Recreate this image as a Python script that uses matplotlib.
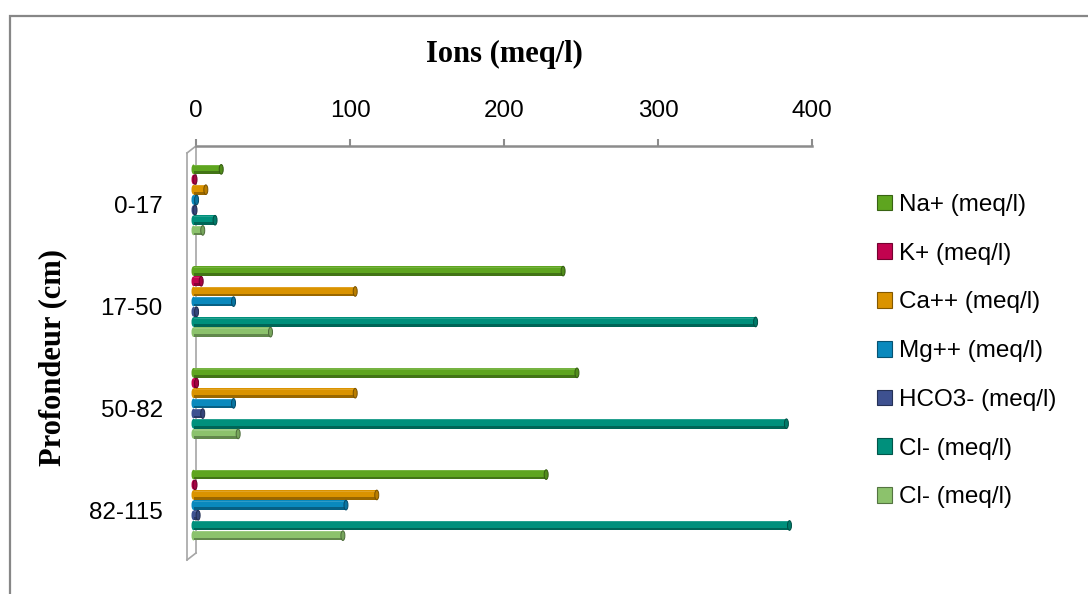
import numpy as np
import matplotlib.pyplot as plt
from matplotlib import transforms
from matplotlib.colors import to_rgb
from matplotlib.patches import Rectangle, Ellipse

# Data (meq/l) per depth layer
depths = ['0-17', '17-50', '50-82', '82-115']
names = ['Na+ (meq/l)', 'K+ (meq/l)', 'Ca++ (meq/l)', 'Mg++ (meq/l)',
         'HCO3- (meq/l)', 'Cl- (meq/l)', 'Cl- (meq/l)']
na = [18, 240, 249, 229]
k = [1, 5, 2, 1]
ca = [8, 105, 105, 119]
mg = [2, 26, 26, 99]
hco3 = [1, 2, 6, 3]
cl = [14, 365, 385, 387]
cl2 = [6, 50, 29, 97]
xticks = [0, 100, 200, 300, 400]

values = [na, k, ca, mg, hco3, cl, cl2]
colors = ['#5ea51f', '#c2034f', '#da9300', '#0a89bd', '#3e5190', '#00907c', '#8cc26c']


def shade(c, f):
    r = np.array(to_rgb(c))
    if f < 0:
        return tuple(r * (1 + f))
    return tuple(r + (1 - r) * f)


plt.rcParams['font.family'] = 'Liberation Sans'

W, H = 1088, 594
fig = plt.figure(figsize=(W / 100, H / 100), dpi=100)
ax = fig.add_axes([196 / W, 1 - 553 / H, 616 / W, 407 / H])

# bars sit on the front plane, a few pixels left/down of the back wall
front = transforms.offset_copy(ax.transData, fig=fig, x=-2.5, y=-3, units='dots')

pos = np.arange(len(depths))
pitch = 0.1
h = 0.095
capw = 4 / 1.54
for i, (vals, c) in enumerate(zip(values, colors)):
    y = pos - 0.3 + i * pitch
    layers = [
        (y, h, c),
        (y + h * 0.36, h * 0.28, shade(c, -0.3)),
        (y - h * 0.40, h * 0.12, shade(c, 0.15)),
    ]
    for yy, hh, cc in layers:
        bars = ax.barh(yy, vals, height=hh, color=cc, linewidth=0, zorder=3)
        for b in bars:
            b.set_transform(front)
            b.set_clip_on(False)
    for v, yc in zip(vals, y):
        start = Ellipse((0, yc), width=capw, height=h, facecolor=c,
                        edgecolor='none', zorder=2.9, transform=front, clip_on=False)
        cap = Ellipse((v, yc), width=capw, height=h, facecolor=shade(c, -0.15),
                      edgecolor=shade(c, -0.45), linewidth=0.7, zorder=5,
                      transform=front, clip_on=False)
        ax.add_patch(start)
        ax.add_patch(cap)

ax.set_xlim(0, 400)
ax.set_ylim(3.5, -0.5)

# axis at the top
ax.xaxis.tick_top()
ax.set_xticks(xticks)
ax.tick_params(axis='x', direction='out', length=5, width=1.5, color='#8c8c8c',
               labelsize=17.5, pad=12)
ax.set_yticks(pos)
ax.set_yticklabels(depths)
ax.tick_params(axis='y', length=0, labelsize=17.5, pad=24)
for lbl in ax.get_yticklabels():
    lbl.set_transform(lbl.get_transform() +
                      transforms.ScaledTranslation(0, -8 / 100, fig.dpi_scale_trans))

for s in ['right', 'bottom']:
    ax.spines[s].set_visible(False)
ax.spines['top'].set_color('#8c8c8c')
ax.spines['top'].set_linewidth(1.8)
ax.spines['left'].set_color('#a6a6a6')
ax.spines['left'].set_linewidth(1.2)
ax.patch.set_alpha(0)

# 3D wall front edge
dx, dy = -9 / 616, -7 / 407
wall = dict(color='#a6a6a6', lw=1.2, transform=ax.transAxes, clip_on=False, zorder=1)
ax.plot([dx, dx], [dy, 1 + dy], **wall)
ax.plot([dx, 0], [1 + dy, 1], **wall)
ax.plot([dx, 0], [dy, 0], **wall)

# legend
handles = [Rectangle((0, 0), 1, 1, facecolor=c, edgecolor=shade(c, -0.4), linewidth=0.8)
           for c in colors]
fig.legend(handles, names, loc='upper left', bbox_to_anchor=(877 / W, 1 - 194 / H),
           frameon=False, handlelength=0.62, handleheight=0.62,
           handletextpad=0.3, labelspacing=1.1, borderpad=0, borderaxespad=0,
           prop={'family': 'Liberation Sans', 'size': 17.5})

# titles
fig.text(504 / W, 1 - 54 / H, 'Ions (meq/l)', ha='center', va='center',
         family='Liberation Serif', weight='bold', size=22)
fig.text(53 / W, 1 - 357 / H, 'Profondeur (cm)', ha='center', va='center', rotation=90,
         family='Liberation Serif', weight='bold', size=22)

# outer chart border (only top and left visible)
fig.add_artist(Rectangle((10 / W, -0.2), 1.5, 1.2 - 16 / H, transform=fig.transFigure,
                         fill=False, edgecolor='#878787', linewidth=1.6))

fig.savefig('out.png', dpi=100)
